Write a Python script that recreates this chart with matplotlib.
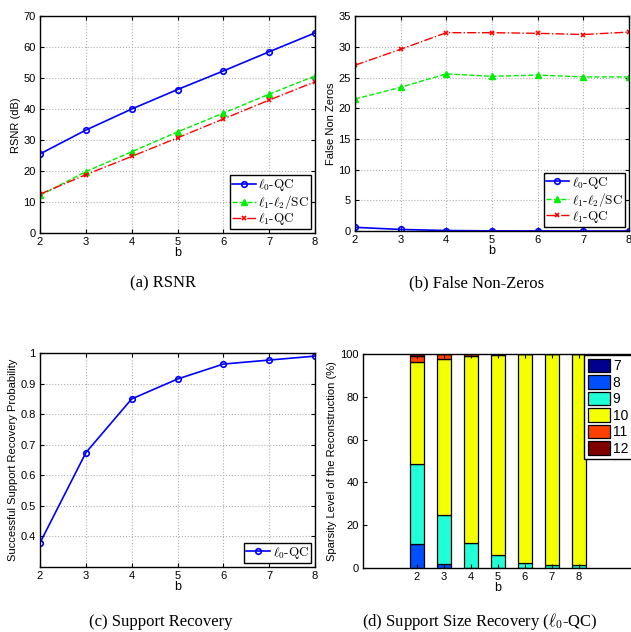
"""Four-panel figure: RSNR, false non-zeros, support recovery, support size."""
import matplotlib
matplotlib.use("Agg")
import matplotlib.pyplot as plt
import numpy as np

plt.rcParams["font.family"] = ["Liberation Sans", "DejaVu Sans"]
plt.rcParams["mathtext.fontset"] = "cm"
plt.rcParams["axes.unicode_minus"] = False

b = [2, 3, 4, 5, 6, 7, 8]

# (a) RSNR (dB)
rsnr_l0qc = [25.6, 33.3, 40.1, 46.4, 52.4, 58.6, 64.7]
rsnr_l1l2sc = [12.2, 19.9, 26.3, 32.7, 38.8, 44.9, 50.8]
rsnr_l1qc = [12.6, 18.9, 24.8, 30.8, 36.9, 43.0, 48.9]

# (b) false non-zeros
fnz_l0qc = [0.6, 0.25, 0.08, 0.02, 0.01, 0.0, 0.0]
fnz_l1l2sc = [21.5, 23.4, 25.6, 25.2, 25.4, 25.1, 25.1]
fnz_l1qc = [27.0, 29.6, 32.3, 32.3, 32.2, 32.0, 32.4]

# (c) support recovery probability
succ_l0qc = [0.379, 0.674, 0.850, 0.915, 0.964, 0.977, 0.990]

# (d) support size distribution (%), sizes 7..12
size_labels = ["7", "8", "9", "10", "11", "12"]
size_7 = [0.0, 0.0, 0.0, 0.0, 0.0, 0.0, 0.0]
size_8 = [11.3, 2.0, 0.2, 0.0, 0.0, 0.0, 0.0]
size_9 = [37.2, 23.0, 11.6, 6.2, 2.5, 1.5, 1.2]
size_10 = [47.6, 72.5, 87.1, 93.3, 97.3, 98.5, 98.8]
size_11 = [3.0, 2.4, 1.0, 0.4, 0.2, 0.0, 0.0]
size_12 = [0.9, 0.1, 0.1, 0.1, 0.0, 0.0, 0.0]
size_colors = ["#00008f", "#0050ff", "#20ffd8", "#f4ff00", "#ff4000", "#800000"]

legend_labels = [r"$\ell_0$-QC", r"$\ell_1$-$\ell_2$/SC", r"$\ell_1$-QC"]


def style_axes(ax, grid=True, right=True):
    ax.tick_params(direction="in", top=True, right=right, labelsize=8, length=3, pad=3)
    for s in ax.spines.values():
        s.set_linewidth(1.0)
    if grid:
        ax.grid(True, linestyle=":", color="#b0b0b0", linewidth=0.8)
        ax.set_axisbelow(True)


def line_legend(ax):
    leg = ax.legend(loc="lower right", prop={"family": "cmr10", "size": 9.5},
                    fancybox=False, edgecolor="black", framealpha=1,
                    borderaxespad=0.3, handlelength=1.8, handletextpad=0.2,
                    labelspacing=0.0, borderpad=0.15)
    leg.get_frame().set_linewidth(1.0)


def three_lines(ax, l0, l12, l1):
    ax.plot(b, l0, "-o", color="blue", lw=1.2, ms=4, mfc="none", mew=1.2, label=legend_labels[0])
    ax.plot(b, l12, "--^", color="#00ee00", lw=1.0, ms=4.5, label=legend_labels[1])
    ax.plot(b, l1, "-.x", color="red", lw=1.0, ms=3, mew=1.2, label=legend_labels[2])
    line_legend(ax)


fig = plt.figure(figsize=(6.31, 6.32), dpi=100)

# (a)
ax = fig.add_axes([0.0634, 0.631, 0.436, 0.343])
three_lines(ax, rsnr_l0qc, rsnr_l1l2sc, rsnr_l1qc)
ax.set_xlim(2, 8)
ax.set_ylim(0, 70)
ax.set_ylabel("RSNR (dB)", fontsize=8, labelpad=2)
ax.set_xlabel("b", fontsize=9, labelpad=0)
style_axes(ax)

# (b)
ax = fig.add_axes([0.5626, 0.6345, 0.434, 0.340])
three_lines(ax, fnz_l0qc, fnz_l1l2sc, fnz_l1qc)
ax.set_xlim(2, 8)
ax.set_ylim(0, 35)
ax.set_ylabel("False Non Zeros", fontsize=8, labelpad=2)
ax.set_xlabel("b", fontsize=9, labelpad=0)
style_axes(ax)

# (c)
ax = fig.add_axes([0.0634, 0.1028, 0.436, 0.3386])
ax.plot(b, succ_l0qc, "-o", color="blue", lw=1.2, ms=4, mfc="none", mew=1.2, label=legend_labels[0])
line_legend(ax)
ax.set_xlim(2, 8)
ax.set_ylim(0.3, 1.0)
ax.set_yticks([0.4, 0.5, 0.6, 0.7, 0.8, 0.9, 1.0])
ax.set_yticklabels(["0.4", "0.5", "0.6", "0.7", "0.8", "0.9", "1"])
ax.set_ylabel("Successful Support Recovery Probability", fontsize=8, labelpad=2)
ax.set_xlabel("b", fontsize=9, labelpad=0)
style_axes(ax)

# (d)
ax = fig.add_axes([0.575, 0.1012, 0.428, 0.3386])
series = [size_7, size_8, size_9, size_10, size_11, size_12]
bottom = np.zeros(len(b))
for vals, col, lab in zip(series, size_colors, size_labels):
    ax.bar(b, vals, width=0.5, bottom=bottom, color=col, edgecolor="black",
           linewidth=0.9, label=lab)
    bottom += np.array(vals)
ax.set_xlim(0, 10)
ax.set_ylim(0, 100)
ax.set_xticks(b)
ax.set_yticks([0, 20, 40, 60, 80, 100])
ax.set_ylabel("Sparsity Level of the Reconstruction (%)", fontsize=8, labelpad=2)
ax.set_xlabel("b", fontsize=9, labelpad=0)
style_axes(ax, grid=False, right=False)
leg = ax.legend(loc="upper left", bbox_to_anchor=(0.815, 1.0), fontsize=10,
                fancybox=False, edgecolor="black", framealpha=1,
                handlelength=1.6, handleheight=1.1, handletextpad=0.2,
                labelspacing=0.15, borderpad=0.25, borderaxespad=0.1)
leg.get_frame().set_linewidth(1.0)

# captions
cap = {"fontsize": 12, "family": ["Liberation Serif", "DejaVu Serif"], "ha": "center", "va": "center"}
fig.text(0.258, 0.551, "(a) RSNR", **cap)
fig.text(0.756, 0.551, "(b) False Non-Zeros", **cap)
fig.text(0.254, 0.016, "(c) Support Recovery", **cap)
fig.text(0.761, 0.016, r"(d) Support Size Recovery ($\ell_0$-QC)", **cap)

fig.savefig("out.png", dpi=100)
